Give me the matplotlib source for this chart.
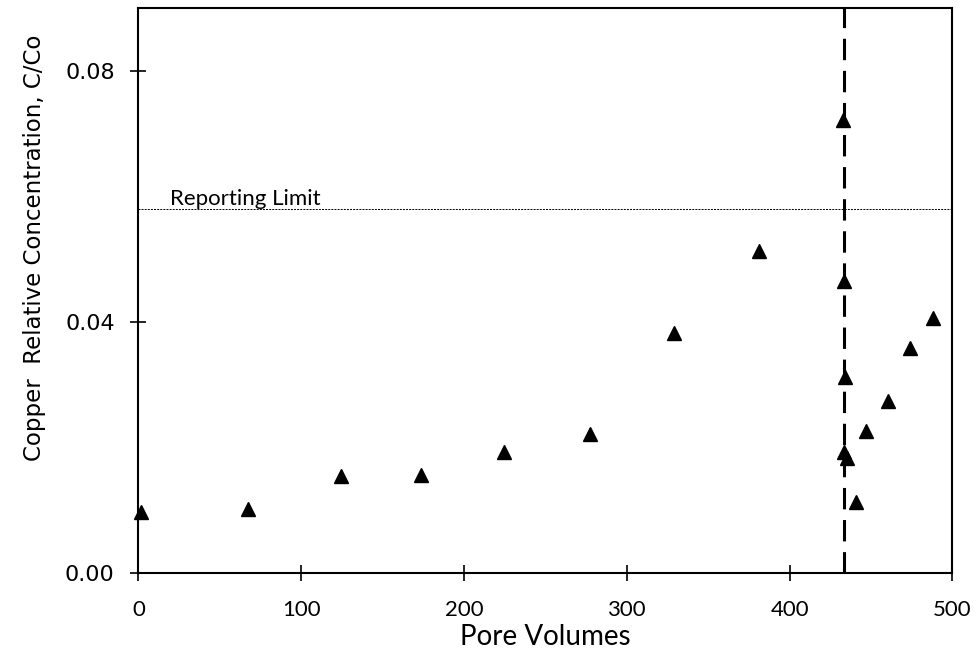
import matplotlib

matplotlib.use("Agg")
import matplotlib.pyplot as plt

# Copper breakthrough: relative effluent concentration vs pore volumes
pore_volumes = [1.5, 67.4, 124.5, 173.5, 224.8, 277.5, 328.9, 381.1,
                432.7, 433.1, 433.7, 433.5, 435.0, 440.8, 446.6, 460.3,
                474.0, 488.3]
rel_conc = [0.0097, 0.0102, 0.0155, 0.0157, 0.0194, 0.0222, 0.0383, 0.0513,
            0.0722, 0.0466, 0.0312, 0.0193, 0.0183, 0.0114, 0.0227, 0.0275,
            0.0359, 0.0407]

reporting_limit = 0.058
switch_pv = 433.5

x_ticks = [0, 100, 200, 300, 400, 500]
y_ticks = [0.00, 0.04, 0.08]

fig = plt.figure(figsize=(9.79, 6.53), dpi=100)
ax = fig.add_axes([0.1413, 0.1221, 0.8316, 0.8649])

ax.plot(pore_volumes, rel_conc, linestyle="none", marker="^",
        markersize=9.5, color="black", clip_on=False, zorder=3)

ax.axvline(switch_pv, color="black", linewidth=2.2,
           dashes=(7, 3.5), zorder=4)
ax.axhline(reporting_limit, color="black", linewidth=0.7,
           dashes=(2, 1.2), zorder=2)
ax.text(19.5, reporting_limit + 0.0007, "Reporting Limit",
        family="Lato", fontsize=16, va="baseline", ha="left")

ax.set_xlim(0, 500)
ax.set_ylim(0, 0.09)
ax.set_xticks(x_ticks)
ax.set_yticks(y_ticks)
ax.set_yticklabels([f"{v:.2f}" for v in y_ticks])
ax.set_xticklabels([str(v) for v in x_ticks])

for spine in ax.spines.values():
    spine.set_linewidth(1.5)

ax.tick_params(direction="inout", length=12, width=1.2, color="black")
ax.tick_params(axis="y", labelsize=16, pad=11)
ax.tick_params(axis="x", labelsize=16, pad=13)
for lbl in ax.get_xticklabels():
    lbl.set_family("Lato")

ax.set_xlabel("Pore Volumes", family="Lato", fontsize=20, labelpad=3)
ax.set_ylabel("Copper  Relative Concentration, C/Co", fontsize=16.5)
ax.yaxis.set_label_coords(-0.113, 0.576)

fig.savefig("out.png", dpi=100, facecolor="white")
